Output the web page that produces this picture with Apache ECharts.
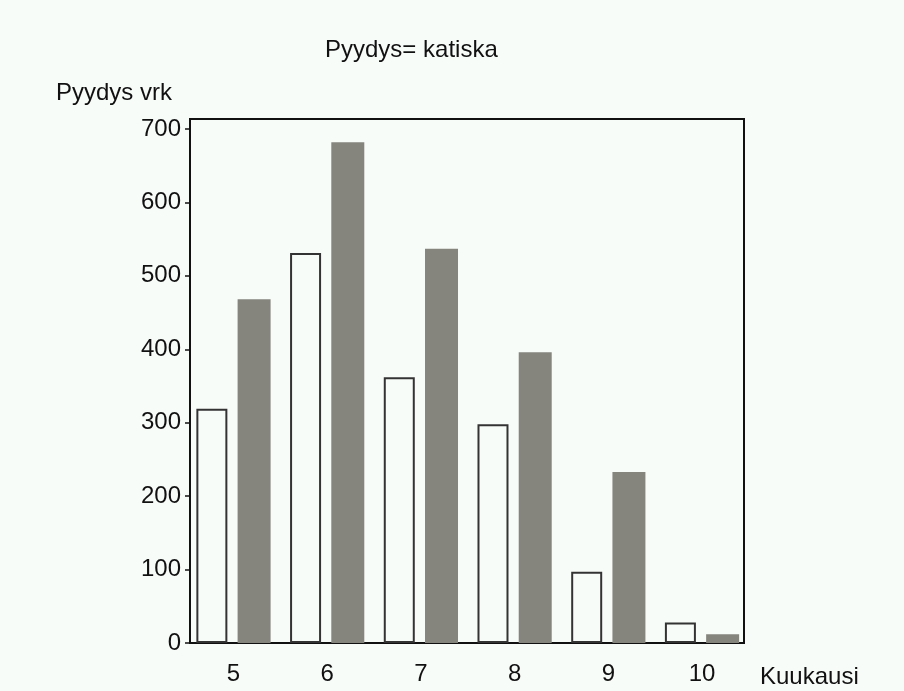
<!DOCTYPE html>
<html>
<head>
<meta charset="utf-8">
<script src="https://cdn.jsdelivr.net/npm/echarts@6/dist/echarts.min.js"></script>
<style>html,body{margin:0;padding:0;background:#f8fcf9;}#c{width:904px;height:691px;}</style>
</head>
<body>
<div id="c"></div>
<script>
const months = [5, 6, 7, 8, 9, 10];
const whiteValues = [319, 531, 362, 298, 97, 28];
const grayValues = [468, 682, 537, 396, 233, 12];
const yTicks = [0, 100, 200, 300, 400, 500, 600, 700];
const titleText = 'Pyydys= katiska';
const yName = 'Pyydys vrk';
const xName = 'Kuukausi';

const font = 'Liberation Sans, Arial, sans-serif';
const chart = echarts.init(document.getElementById('c'));
chart.setOption({
  backgroundColor: '#f8fcf9',
  animation: false,
  title: [
    { text: titleText, left: 320, top: 33, textStyle: { fontFamily: font, fontSize: 24, fontWeight: 'normal', color: '#111' } },
    { text: yName, left: 51, top: 76, textStyle: { fontFamily: font, fontSize: 24, fontWeight: 'normal', color: '#111' } },
    { text: xName, left: 755, top: 660, textStyle: { fontFamily: font, fontSize: 24, fontWeight: 'normal', color: '#111' } }
  ],
  grid: { left: 190, right: 160, top: 119, bottom: 48, show: true, borderColor: '#111', borderWidth: 2, backgroundColor: 'transparent' },
  xAxis: {
    type: 'value', min: 4.536, max: 10.448,
    axisLine: { show: true, lineStyle: { color: '#111', width: 2 } },
    axisTick: { show: false },
    splitLine: { show: false },
    axisLabel: { customValues: months, margin: 19, fontFamily: font, fontSize: 24, color: '#111' }
  },
  yAxis: {
    type: 'value', min: 0, max: 713.6,
    axisLine: { show: true, lineStyle: { color: '#111', width: 2 } },
    axisTick: { show: true, length: 5, customValues: yTicks, lineStyle: { color: '#111', width: 1.5 } },
    splitLine: { show: false },
    axisLabel: { customValues: yTicks, margin: 9, fontFamily: font, fontSize: 24, color: '#111' }
  },
  series: [
    {
      type: 'bar', barWidth: 31, barGap: '33%',
      data: months.map((m, i) => [m, whiteValues[i]]),
      itemStyle: { color: '#f8fcf9', borderColor: '#333', borderWidth: 2 }
    },
    {
      type: 'bar', barWidth: 33,
      data: months.map((m, i) => [m, grayValues[i]]),
      itemStyle: { color: '#86857d' }
    }
  ]
});
</script>
</body>
</html>
